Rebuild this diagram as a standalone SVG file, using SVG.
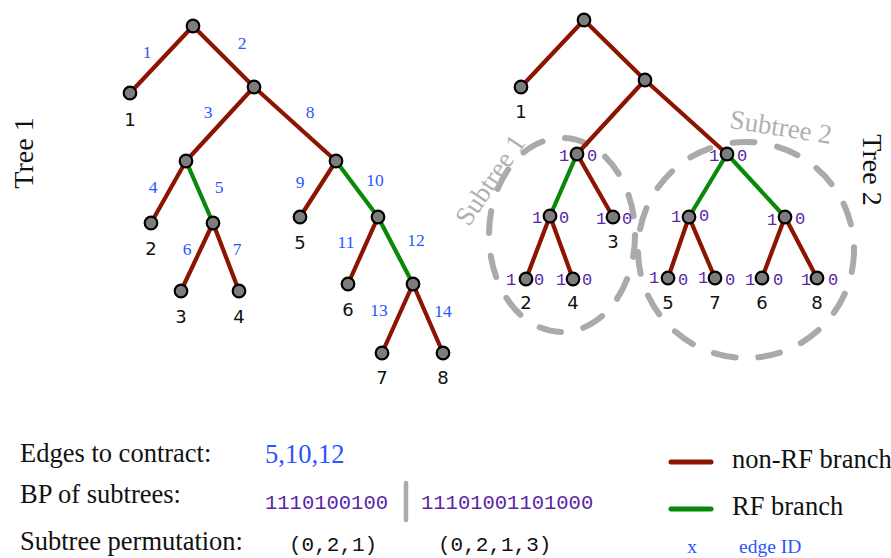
<svg xmlns="http://www.w3.org/2000/svg" width="891" height="558" viewBox="0 0 891 558">
<style>
.e{stroke-width:4.2;stroke-linecap:round;fill:none}
.r{stroke:#8c1400}
.g{stroke:#088a08}
.n{fill:#7d7d7d;stroke:#000;stroke-width:2.2}
.lab{font-family:"DejaVu Sans","Liberation Sans",sans-serif;font-size:18px;text-anchor:middle;fill:#111}
.eid{font-family:"Liberation Serif",serif;font-size:17.5px;text-anchor:middle;fill:#2b55ff}
.bp{font-family:"Liberation Mono",monospace;font-size:17px;text-anchor:middle;fill:#5a24a8}
.ser{font-family:"Liberation Serif",serif;font-size:26.5px;fill:#111}
.sub{font-family:"Liberation Serif",serif;font-size:27px;fill:#b0b0b0;text-anchor:middle}
.dash{fill:none;stroke:#aaaaaa;stroke-width:6;stroke-dasharray:22 23;stroke-linecap:round}
.mono{font-family:"Liberation Mono",monospace;font-size:20.5px}
</style>
<rect width="891" height="558" fill="#fff"/>

<g id="subtree-outlines">
<ellipse class="dash" cx="562" cy="235" rx="73" ry="97"/>
<circle class="dash" cx="746" cy="250" r="108"/>
<text class="sub" transform="translate(490,180) rotate(-56)" y="9">Subtree 1</text>
<text class="sub" transform="translate(781,127) rotate(9)" y="9">Subtree 2</text>
</g>

<g id="tree-titles">
<text class="ser" style="font-size:28px;text-anchor:middle" transform="translate(33,153) rotate(-90)">Tree 1</text>
<text class="ser" style="font-size:28px;text-anchor:middle" transform="translate(863,170) rotate(90)">Tree 2</text>
</g>

<g id="connectors">
<!-- Tree 1 -->
<line class="e r" x1="193" y1="26" x2="130" y2="93"/>
<line class="e r" x1="193" y1="26" x2="254" y2="87"/>
<line class="e r" x1="254" y1="87" x2="186" y2="161"/>
<line class="e r" x1="254" y1="87" x2="336" y2="161"/>
<line class="e r" x1="186" y1="161" x2="151" y2="223"/>
<line class="e g" x1="186" y1="161" x2="213" y2="223"/>
<line class="e r" x1="213" y1="223" x2="181" y2="291"/>
<line class="e r" x1="213" y1="223" x2="239" y2="291"/>
<line class="e r" x1="336" y1="161" x2="300" y2="217"/>
<line class="e g" x1="336" y1="161" x2="378" y2="217"/>
<line class="e r" x1="378" y1="217" x2="348" y2="284"/>
<line class="e g" x1="378" y1="217" x2="413" y2="284"/>
<line class="e r" x1="413" y1="284" x2="382" y2="353"/>
<line class="e r" x1="413" y1="284" x2="443" y2="353"/>
<!-- Tree 2 -->
<line class="e r" x1="584" y1="20" x2="521" y2="87"/>
<line class="e r" x1="584" y1="20" x2="645" y2="80"/>
<line class="e r" x1="645" y1="80" x2="577" y2="154"/>
<line class="e r" x1="645" y1="80" x2="727" y2="154"/>
<line class="e g" x1="577" y1="154" x2="550" y2="216"/>
<line class="e r" x1="577" y1="154" x2="613" y2="217"/>
<line class="e r" x1="550" y1="216" x2="526" y2="279"/>
<line class="e r" x1="550" y1="216" x2="573" y2="279"/>
<line class="e g" x1="727" y1="154" x2="689" y2="217"/>
<line class="e g" x1="727" y1="154" x2="785" y2="217"/>
<line class="e r" x1="689" y1="217" x2="668" y2="278"/>
<line class="e r" x1="689" y1="217" x2="715" y2="278"/>
<line class="e r" x1="785" y1="217" x2="762" y2="278"/>
<line class="e r" x1="785" y1="217" x2="817" y2="278"/>
<!-- edge IDs -->
<text class="eid" x="147" y="58">1</text>
<text class="eid" x="242" y="49">2</text>
<text class="eid" x="208" y="118">3</text>
<text class="eid" x="310" y="118">8</text>
<text class="eid" x="153" y="193">4</text>
<text class="eid" x="219" y="193">5</text>
<text class="eid" x="300" y="188">9</text>
<text class="eid" x="375" y="186">10</text>
<text class="eid" x="187" y="255">6</text>
<text class="eid" x="237" y="255">7</text>
<text class="eid" x="346" y="248">11</text>
<text class="eid" x="416" y="246">12</text>
<text class="eid" x="379" y="316">13</text>
<text class="eid" x="443" y="317">14</text>
</g>

<!-- Tree 1 nodes -->
<g id="t1-root"><circle class="n" cx="193" cy="26" r="6.3"/></g>
<g id="t1-leaf1"><circle class="n" cx="130" cy="93" r="6.3"/><text class="lab" x="130" y="126">1</text></g>
<g id="t1-n2"><circle class="n" cx="254" cy="87" r="6.3"/></g>
<g id="t1-n3"><circle class="n" cx="186" cy="161" r="6.3"/></g>
<g id="t1-n8"><circle class="n" cx="336" cy="161" r="6.3"/></g>
<g id="t1-leaf2"><circle class="n" cx="151" cy="223" r="6.3"/><text class="lab" x="151" y="255">2</text></g>
<g id="t1-n5"><circle class="n" cx="213" cy="223" r="6.3"/></g>
<g id="t1-leaf3"><circle class="n" cx="181" cy="291" r="6.3"/><text class="lab" x="181" y="323">3</text></g>
<g id="t1-leaf4"><circle class="n" cx="239" cy="291" r="6.3"/><text class="lab" x="239" y="323">4</text></g>
<g id="t1-leaf5"><circle class="n" cx="300" cy="217" r="6.3"/><text class="lab" x="300" y="249">5</text></g>
<g id="t1-n10"><circle class="n" cx="378" cy="217" r="6.3"/></g>
<g id="t1-leaf6"><circle class="n" cx="348" cy="284" r="6.3"/><text class="lab" x="348" y="316">6</text></g>
<g id="t1-n12"><circle class="n" cx="413" cy="284" r="6.3"/></g>
<g id="t1-leaf7"><circle class="n" cx="382" cy="353" r="6.3"/><text class="lab" x="382" y="384">7</text></g>
<g id="t1-leaf8"><circle class="n" cx="443" cy="353" r="6.3"/><text class="lab" x="443" y="384">8</text></g>

<!-- Tree 2 nodes -->
<g id="t2-root"><circle class="n" cx="584" cy="20" r="6.3"/></g>
<g id="t2-leaf1"><circle class="n" cx="521" cy="87" r="6.3"/><text class="lab" x="521" y="118">1</text></g>
<g id="t2-n2"><circle class="n" cx="645" cy="80" r="6.3"/></g>
<g id="t2-s1"><circle class="n" cx="577" cy="154" r="6.3"/><text class="bp" x="564" y="161">1</text><text class="bp" x="592" y="161">0</text></g>
<g id="t2-s2"><circle class="n" cx="727" cy="154" r="6.3"/><text class="bp" x="714" y="161">1</text><text class="bp" x="742" y="161">0</text></g>
<g id="t2-a"><circle class="n" cx="550" cy="216" r="6.3"/><text class="bp" x="537" y="223">1</text><text class="bp" x="564" y="223">0</text></g>
<g id="t2-leaf3"><circle class="n" cx="613" cy="217" r="6.3"/><text class="bp" x="601" y="224">1</text><text class="bp" x="627" y="224">0</text><text class="lab" x="613" y="248">3</text></g>
<g id="t2-leaf2"><circle class="n" cx="526" cy="279" r="6.3"/><text class="bp" x="511" y="285">1</text><text class="bp" x="539" y="285">0</text><text class="lab" x="526" y="309">2</text></g>
<g id="t2-leaf4"><circle class="n" cx="573" cy="279" r="6.3"/><text class="bp" x="561" y="285">1</text><text class="bp" x="587" y="285">0</text><text class="lab" x="573" y="309">4</text></g>
<g id="t2-b"><circle class="n" cx="689" cy="217" r="6.3"/><text class="bp" x="676" y="222">1</text><text class="bp" x="704" y="221">0</text></g>
<g id="t2-c"><circle class="n" cx="785" cy="217" r="6.3"/><text class="bp" x="772" y="225">1</text><text class="bp" x="800" y="224">0</text></g>
<g id="t2-leaf5"><circle class="n" cx="668" cy="278" r="6.3"/><text class="bp" x="654" y="283">1</text><text class="bp" x="683" y="285">0</text><text class="lab" x="668" y="309">5</text></g>
<g id="t2-leaf7"><circle class="n" cx="715" cy="278" r="6.3"/><text class="bp" x="703" y="283">1</text><text class="bp" x="730" y="285">0</text><text class="lab" x="715" y="309">7</text></g>
<g id="t2-leaf6"><circle class="n" cx="762" cy="278" r="6.3"/><text class="bp" x="750" y="285">1</text><text class="bp" x="778" y="285">0</text><text class="lab" x="762" y="309">6</text></g>
<g id="t2-leaf8"><circle class="n" cx="817" cy="278" r="6.3"/><text class="bp" x="806" y="285">1</text><text class="bp" x="833" y="285">0</text><text class="lab" x="817" y="309">8</text></g>

<g id="info">
<text class="ser" x="20" y="462">Edges to contract:</text>
<text class="ser" x="265" y="463" style="fill:#2b55ff">5,10,12</text>
<text class="ser" x="20" y="503">BP of subtrees:</text>
<text class="mono" x="265" y="509" fill="#5a24a8">1110100100</text>
<line x1="406" y1="483" x2="406" y2="520" stroke="#aaaaaa" stroke-width="4.5" stroke-linecap="round"/>
<text class="mono" x="421" y="509" fill="#5a24a8">11101001101000</text>
<text class="ser" x="20" y="550">Subtree permutation:</text>
<text class="mono" x="289" y="551" fill="#111" style="font-size:21px">(0,2,1)</text>
<text class="mono" x="438" y="551" fill="#111" style="font-size:21px">(0,2,1,3)</text>
</g>

<g id="legend">
<line class="r" x1="671" y1="462" x2="711" y2="462" stroke-width="5" stroke-linecap="round"/>
<text class="ser" x="732" y="468">non-RF branch</text>
<line class="g" x1="671" y1="509" x2="711" y2="509" stroke-width="5" stroke-linecap="round"/>
<text class="ser" x="732" y="515">RF branch</text>
<text x="692" y="553" font-family="Liberation Serif, serif" font-size="19.5" fill="#2b55ff" text-anchor="middle">x</text>
<text x="739" y="553" font-family="Liberation Serif, serif" font-size="19.5" fill="#2b55ff">edge ID</text>
</g>
</svg>
